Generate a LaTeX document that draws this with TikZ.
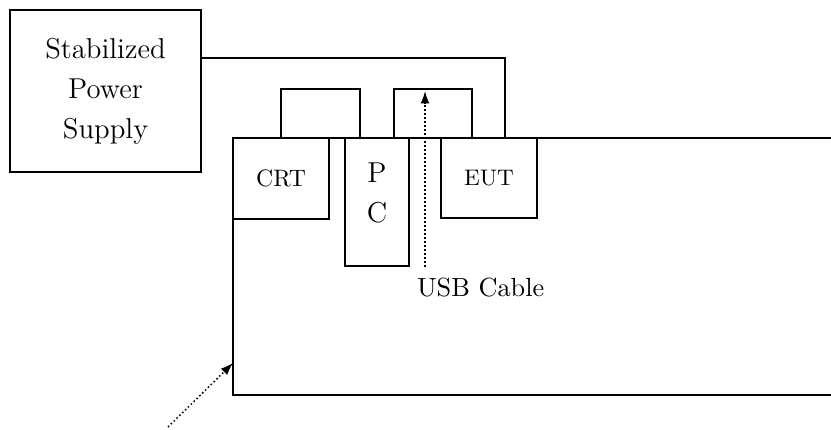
\documentclass[tikz,border=0pt]{standalone}
\usepackage{tikz}
\usetikzlibrary{arrows.meta,positioning,calc}

\begin{document}
\begin{tikzpicture}[x=0.4pt, y=-0.4pt, line width=0.8pt,
    unit/.style={draw, rectangle, inner sep=0pt, align=center},
    cable/.style={draw},
    dotarrow/.style={-{Latex[length=5pt,width=3.6pt]}, line width=0.6pt, dash pattern=on 0.6pt off 1pt},
    every node/.style={font=\fontsize{11.5}{16}\selectfont}]
    \useasboundingbox (0,0) rectangle (831,430);
    % power supply and units on the table
    \node[unit, minimum width=76.4pt, minimum height=64.8pt] (psu) at (105.5,91)
      {Stabilized\\Power\\Supply};
    \node[unit, minimum width=38.4pt, minimum height=32.4pt,
          font=\fontsize{9.5}{12}\selectfont] (crt) at (281,178.5) {CRT};
    \node[unit, minimum width=25.6pt, minimum height=51.2pt,
          label={[align=center, yshift=3.6pt]center:P\\C}] (pc) at (377,202) {};
    \node[unit, minimum width=38.4pt, minimum height=32pt,
          font=\fontsize{9}{12}\selectfont] (eut) at (489,178) {EUT};
    % table
    \draw (831,138) -- (233,138) -- (233,395) -- (831,395);
    % cables
    \draw[cable] ($(psu.north east)+(0,49)$) -| ($(eut.north)+(16,0)$);
    \draw[cable] (crt.north) -- ++(0,-48) -| ($(pc.north west)+(16,0)$);
    \draw[cable] ($(pc.north east)+(-16,0)$) -- ++(0,-48) -| ($(eut.north west)+(32,0)$);
    % labels and pointers
    \coordinate (usbtail) at (425,267);
    \coordinate (usbtip) at (425,91);
    \draw[dotarrow] (usbtail) -- (usbtip);
    \node[anchor=base west, inner sep=0pt, font=\fontsize{10.5}{12}\selectfont] (usb) at (416,297) {USB Cable};
    \coordinate (tabletail) at (168,427);
    \coordinate (tabletip) at (233,363);
    \draw[dotarrow] (tabletail) -- (tabletip);
\end{tikzpicture}
\end{document}
